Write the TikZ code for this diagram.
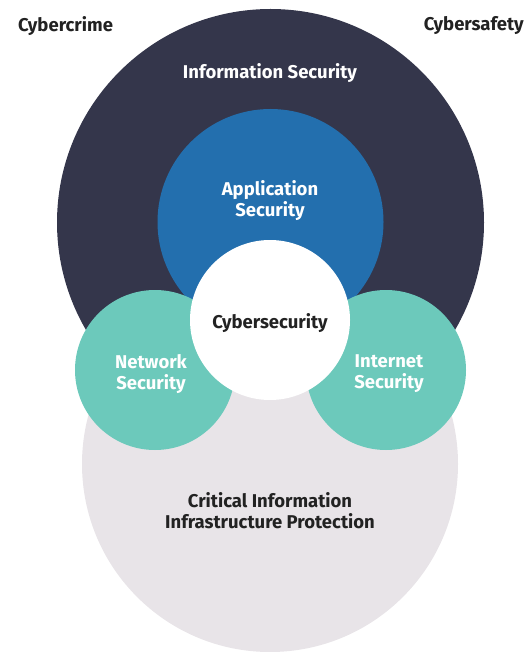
\documentclass[tikz,border=0pt]{standalone}
\usepackage{fontspec}
\setmainfont{Fira Sans}
\usepackage{tikz}
\usetikzlibrary{positioning}

\definecolor{navy}{HTML}{34364B}
\definecolor{appblue}{HTML}{236FAE}
\definecolor{teal}{HTML}{6CC9BB}
\definecolor{lightgray}{HTML}{E8E4E8}
\definecolor{ink}{HTML}{222222}

\tikzset{
  lbl/.style={font=\fontsize{18.5}{21}\selectfont\bfseries, align=center, inner sep=0pt},
  wlbl/.style={lbl, text=white},
  dlbl/.style={lbl, text=ink}
}

\begin{document}
\begin{tikzpicture}[x=1pt,y=-1pt]
\useasboundingbox (0,0) rectangle (523,652);
\fill[navy] (270.5,222.5) circle (213.5);
\fill[lightgray] (270,464) circle (188);
\fill[appblue] (270.5,222) circle (113);
\fill[teal] (155,370) circle (80);
\fill[teal] (386,370) circle (80);
\fill[white] (270,320) circle (80);
\node[dlbl, anchor=west] (crime) at (18,26) {Cybercrime};
\node[dlbl, anchor=east] (safety) at (524,26) {Cybersafety};
\node[wlbl] (infosec) at (270,73) {Information Security};
\node[wlbl] (appsec) at (270,200.5) {Application\\Security};
\node[dlbl] (cyber) at (270,323) {Cybersecurity};
\node[wlbl] (netsec) at (151,374) {Network\\Security};
\node[wlbl] (inetsec) at (389,374) {Internet\\Security};
\node[dlbl] (ciip) at (270,511) {Critical Information\\Infrastructure Protection};
\end{tikzpicture}
\end{document}
